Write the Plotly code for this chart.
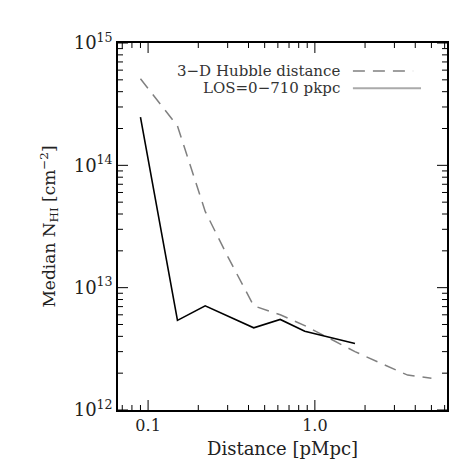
import plotly.graph_objects as go
import numpy as np

# Data
hubble_x = [0.09, 0.15, 0.22, 0.30, 0.43, 0.62, 0.87, 1.2, 1.74, 2.5, 3.6, 5.0]
hubble_y = [5.1e14, 2.1e14, 4.2e13, 1.8e13, 7.1e12, 6.0e12, 4.9e12, 3.9e12, 3.0e12, 2.4e12, 1.93e12, 1.82e12]
los_x = [0.09, 0.15, 0.22, 0.43, 0.62, 0.87, 1.74]
los_y = [2.48e14, 5.4e12, 7.1e12, 4.7e12, 5.5e12, 4.4e12, 3.5e12]

x_ticks = [0.1, 1.0]
x_ticklabels = ["0.1", "1.0"]
y_ticks = [1e12, 1e13, 1e14, 1e15]
y_ticklabels = ["10<sup>12</sup>", "10<sup>13</sup>", "10<sup>14</sup>", "10<sup>15</sup>"]
x_minor = [0.07, 0.08, 0.09, 0.2, 0.3, 0.4, 0.5, 0.6, 0.7, 0.8, 0.9, 2, 3, 4, 5, 6]
y_minor = [m * d for d in [1e12, 1e13, 1e14] for m in [2, 3, 4, 5, 6, 7, 8, 9]]

legend_labels = ["3\u2212D Hubble distance", "LOS=0\u2212710 pkpc"]

FONT = "DejaVu Serif"
XR = [np.log10(0.066), np.log10(6.2)]
YR = [12, 15]

fig = go.Figure()
fig.add_trace(go.Scatter(x=hubble_x, y=hubble_y, mode="lines",
                         line=dict(color="#808080", width=1.5, dash="12px,8px"),
                         showlegend=False))
fig.add_trace(go.Scatter(x=los_x, y=los_y, mode="lines",
                         line=dict(color="black", width=1.6),
                         showlegend=False))

fig.update_layout(
    xaxis=dict(type="log", range=XR, tickmode="array", tickvals=x_ticks, ticktext=x_ticklabels,
               showline=True, linecolor="black", linewidth=1.5, mirror=True,
               ticks="", showgrid=False,
               tickfont=dict(family=FONT, size=16, color="#222"),
               title=dict(text="Distance [pMpc]", font=dict(family=FONT, size=18, color="#222"),
                          standoff=8)),
    yaxis=dict(type="log", range=YR, tickmode="array", tickvals=y_ticks, ticktext=y_ticklabels,
               showline=True, linecolor="black", linewidth=1.5, mirror=True,
               ticks="", showgrid=False,
               tickfont=dict(family=FONT, size=18, color="#222"),
               title=dict(text="Median N<sub>HI</sub> [cm<sup>\u22122</sup>]",
                          font=dict(family=FONT, size=17, color="#222"), standoff=14)),
)

# Inside tick marks on all four sides, placed through the axes' own scales
tick_line = dict(color="black", width=1)
MAJ_X, MIN_X = 10 / 367, 5 / 367   # tick length as a fraction of plot height
MAJ_Y, MIN_Y = 10 / 329, 5 / 329   # tick length as a fraction of plot width
for vals, ln in [(x_ticks, MAJ_X), (x_minor, MIN_X)]:
    for v in vals:
        fig.add_shape(type="line", xref="x", yref="y domain", x0=v, x1=v, y0=0, y1=ln, line=tick_line)
        fig.add_shape(type="line", xref="x", yref="y domain", x0=v, x1=v, y0=1, y1=1 - ln, line=tick_line)
for vals, ln in [(y_ticks, MAJ_Y), (y_minor, MIN_Y)]:
    for v in vals:
        fig.add_shape(type="line", xref="x domain", yref="y", x0=0, x1=ln, y0=v, y1=v, line=tick_line)
        fig.add_shape(type="line", xref="x domain", yref="y", x0=1, x1=1 - ln, y0=v, y1=v, line=tick_line)

# Legend (text right-aligned with sample line to its right)
leg_y = [0.924, 0.877]
styles = [dict(color="#808080", width=1.5, dash="12px,8px"), dict(color="#aaaaaa", width=2)]
ends = [0.897, 0.921]
for lab, yy, st, xe in zip(legend_labels, leg_y, styles, ends):
    fig.add_annotation(x=0.682, y=yy, xref="paper", yref="paper", text=lab,
                       showarrow=False, xanchor="right", yanchor="middle",
                       font=dict(family=FONT, size=15, color="#333"))
    fig.add_shape(type="line", xref="paper", yref="paper", x0=0.714, x1=xe, y0=yy, y1=yy,
                  line=st)

fig.update_layout(width=472, height=472, margin=dict(l=110, r=33, t=35, b=70),
                  plot_bgcolor="white", paper_bgcolor="white", showlegend=False)

fig.write_html("out.html")
